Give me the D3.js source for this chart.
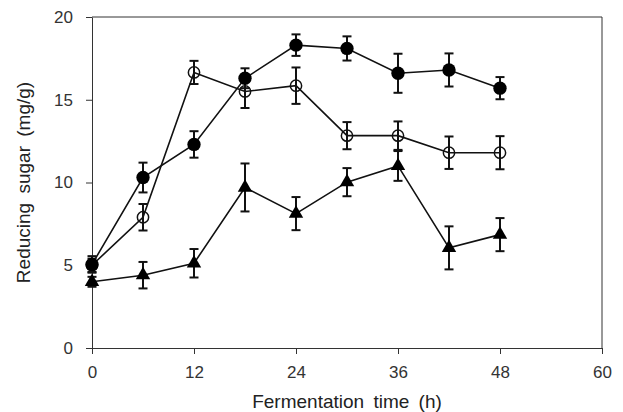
<!DOCTYPE html>
<html>
<head>
<meta charset="utf-8">
<script src="https://cdn.jsdelivr.net/npm/d3@7"></script>
<style>
  body { margin: 0; background: #fff; }
  text { font-family: "Liberation Sans", "DejaVu Sans", sans-serif; fill: #222; }
</style>
</head>
<body>
<div id="chart"></div>
<script>
// data
var times = [0, 6, 12, 18, 24, 30, 36, 42, 48];

var filledMean = [5.05, 10.3, 12.3, 16.3, 18.3, 18.1, 16.6, 16.8, 15.7];
var filledErr  = [0.5, 0.9, 0.8, 0.6, 0.65, 0.73, 1.18, 1.0, 0.67];

var openMean = [5.0, 7.9, 16.65, 15.5, 15.85, 12.83, 12.83, 11.8, 11.8];
var openErr  = [0.4, 0.8, 0.7, 1.0, 1.1, 0.82, 0.86, 0.98, 1.0];

var triMean = [4.0, 4.4, 5.12, 9.7, 8.12, 10.02, 11.0, 6.05, 6.85];
var triErr  = [0.3, 0.8, 0.86, 1.45, 1.0, 0.85, 0.9, 1.3, 1.0];

var xTicks = [0, 12, 24, 36, 48, 60];
var yTicks = [0, 5, 10, 15, 20];

var margin = {top: 17, right: 21, bottom: 64, left: 92},
    width = 623 - margin.left - margin.right,
    height = 412 - margin.top - margin.bottom;

var svg = d3.select("#chart")
  .append("svg")
    .attr("width", 623)
    .attr("height", 412)
  .append("g")
    .attr("transform", "translate(" + margin.left + "," + margin.top + ")");

var x = d3.scaleLinear().domain([0, 60]).range([0, width]);
var y = d3.scaleLinear().domain([0, 20]).range([height, 0]);

// frame (top and right)
svg.append("path")
  .attr("d", "M0,0H" + width + "V" + height)
  .attr("fill", "none")
  .attr("stroke", "#333")
  .attr("stroke-width", 1);

// X axis
var gx = svg.append("g")
  .attr("transform", "translate(0," + height + ")")
  .call(d3.axisBottom(x).tickValues(xTicks).tickSize(6).tickPadding(12).tickSizeOuter(0));
gx.selectAll("text").style("font-size", "17px").style("fill", "#333");

// Y axis
var gy = svg.append("g")
  .call(d3.axisLeft(y).tickValues(yTicks).tickSize(6).tickPadding(13).tickSizeOuter(0));
gy.selectAll("text").style("font-size", "17px").style("fill", "#333");

svg.selectAll(".domain, .tick line").attr("stroke", "#333").attr("stroke-width", 1);

// labels
svg.append("text")
  .attr("text-anchor", "middle")
  .attr("x", width / 2)
  .attr("y", height + 60)
  .style("font-size", "19px")
  .style("word-spacing", "4px")
  .text("Fermentation time (h)");

svg.append("text")
  .attr("text-anchor", "middle")
  .attr("transform", "rotate(-90)")
  .attr("x", -height / 2)
  .attr("y", -62)
  .style("font-size", "19px")
  .style("word-spacing", "4px")
  .text("Reducing sugar (mg/g)");

var series = [
  {mean: triMean, err: triErr, shape: "tri"},
  {mean: openMean, err: openErr, shape: "open"},
  {mean: filledMean, err: filledErr, shape: "filled"}
];

var line = d3.line()
  .x(function(d) { return x(d.t); })
  .y(function(d) { return y(d.v); });

series.forEach(function(s) {
  var pts = times.map(function(t, i) { return {t: t, v: s.mean[i], e: s.err[i]}; });

  svg.append("path")
    .datum(pts)
    .attr("d", line)
    .attr("fill", "none")
    .attr("stroke", "#111")
    .attr("stroke-width", 1.6);

  // error bars
  var eb = svg.append("g").selectAll("g")
    .data(pts)
    .enter().append("g")
    .attr("stroke", "#111")
    .attr("stroke-width", 2);
  eb.append("line")
    .attr("x1", function(d) { return x(d.t); })
    .attr("x2", function(d) { return x(d.t); })
    .attr("y1", function(d) { return y(d.v + d.e); })
    .attr("y2", function(d) { return y(d.v - d.e); });
  eb.append("line")
    .attr("x1", function(d) { return x(d.t) - 4.5; })
    .attr("x2", function(d) { return x(d.t) + 4.5; })
    .attr("y1", function(d) { return y(d.v + d.e); })
    .attr("y2", function(d) { return y(d.v + d.e); });
  eb.append("line")
    .attr("x1", function(d) { return x(d.t) - 4.5; })
    .attr("x2", function(d) { return x(d.t) + 4.5; })
    .attr("y1", function(d) { return y(d.v - d.e); })
    .attr("y2", function(d) { return y(d.v - d.e); });

  // markers
  var mk = svg.append("g").selectAll("path")
    .data(pts)
    .enter().append("path")
    .attr("transform", function(d) { return "translate(" + x(d.t) + "," + y(d.v) + ")"; });
  if (s.shape == "tri") {
    mk.attr("d", d3.symbol().type(d3.symbolTriangle).size(90))
      .attr("fill", "#000");
  } else if (s.shape == "open") {
    mk.attr("d", d3.symbol().type(d3.symbolCircle).size(100))
      .attr("fill", "none")
      .attr("stroke", "#111")
      .attr("stroke-width", 1.5);
  } else {
    mk.attr("d", d3.symbol().type(d3.symbolCircle).size(140))
      .attr("fill", "#000");
  }
});
</script>
</body>
</html>
